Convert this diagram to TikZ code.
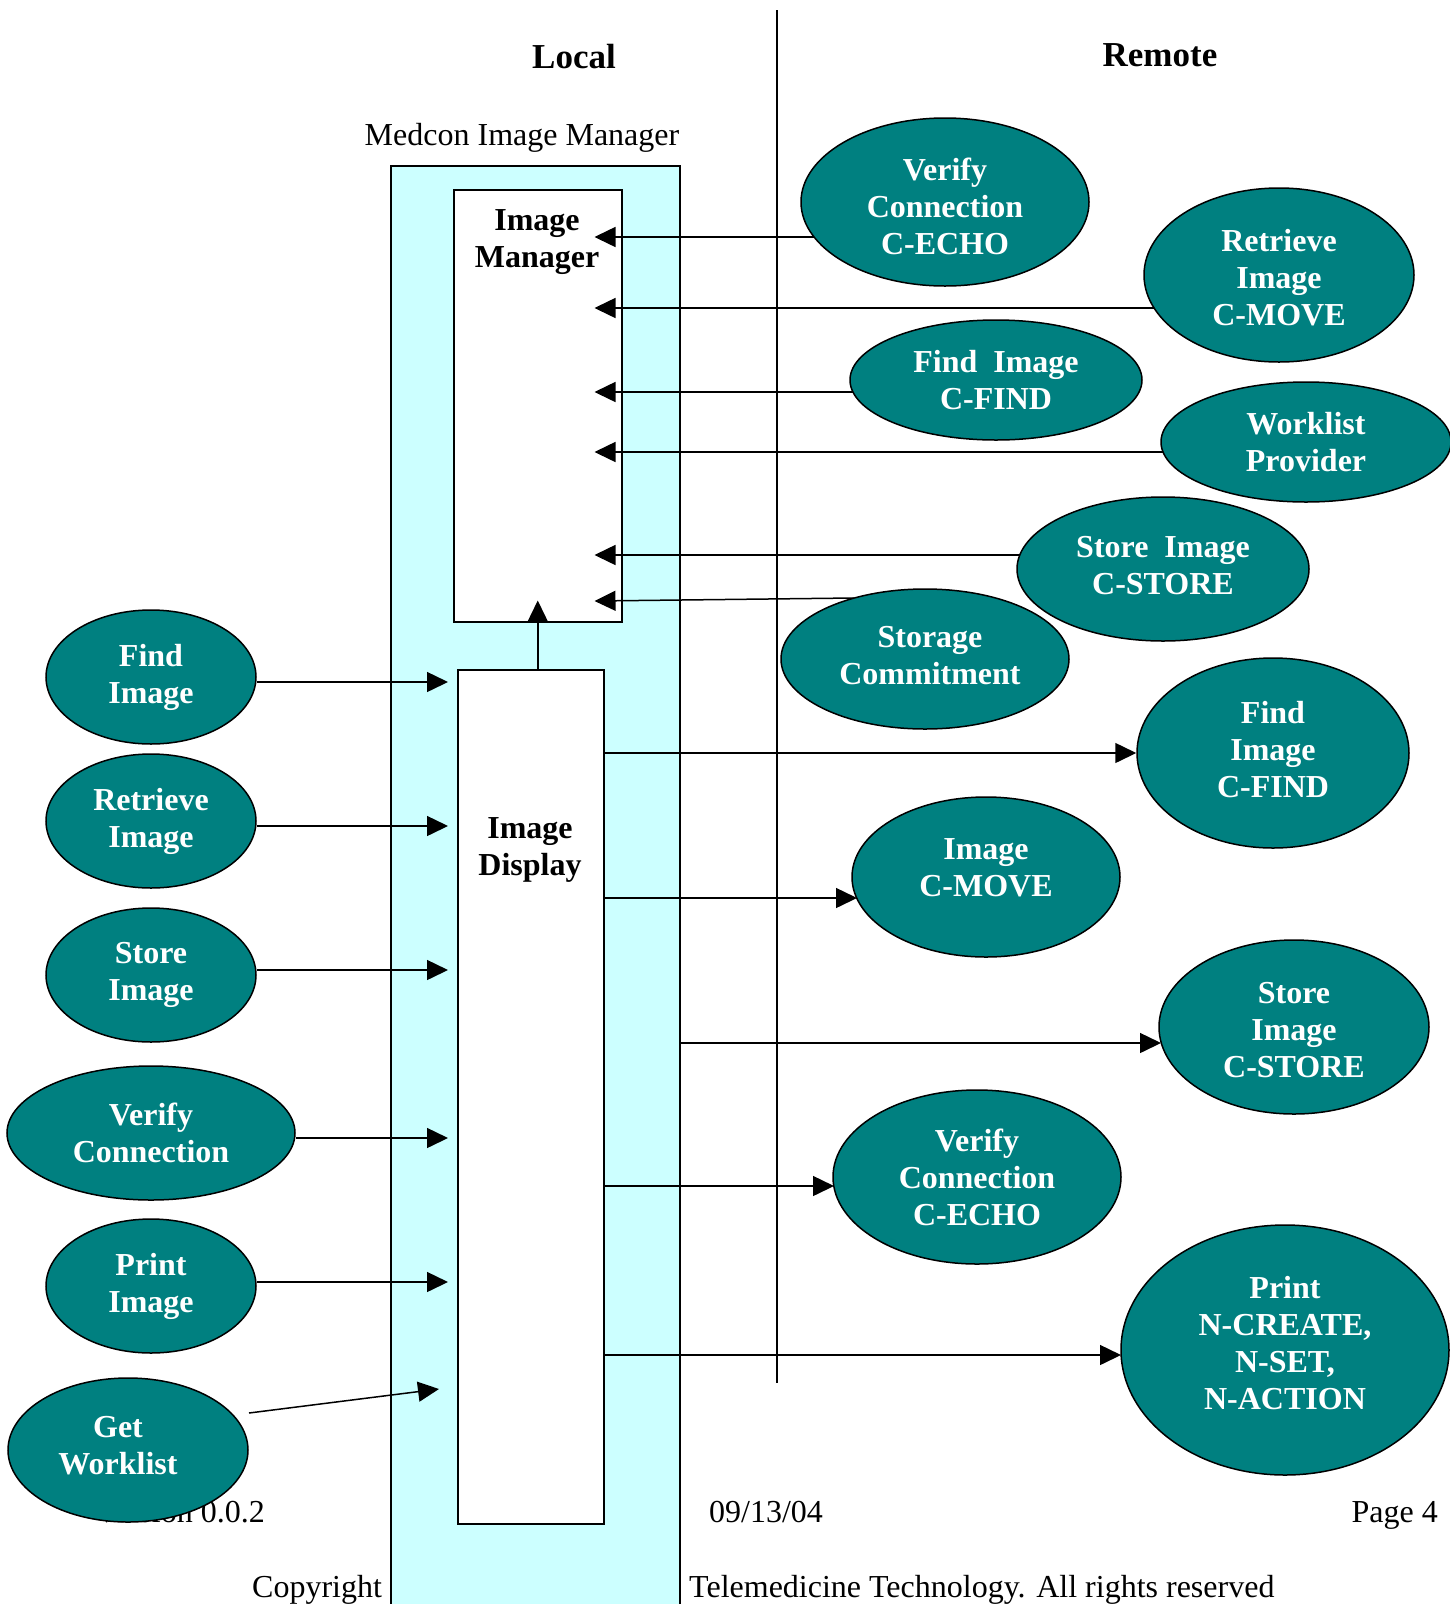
\documentclass[tikz,border=0pt]{standalone}
\usepackage{fontspec}
\setmainfont{Liberation Serif}
\usetikzlibrary{arrows.meta,shapes.geometric,calc}
\definecolor{tealA}{RGB}{0,128,128}
\definecolor{cyanA}{RGB}{204,255,255}
\pgfdeclarelayer{bg}
\pgfdeclarelayer{boxes}
\pgfdeclarelayer{arrows}
\pgfsetlayers{bg,boxes,arrows,main}
\begin{document}
\begin{tikzpicture}[x=1pt,y=-1pt,
  oval/.style={ellipse, draw=black, line width=1.5pt, fill=tealA, text=white,
    font=\fontsize{32}{37}\selectfont\bfseries, align=center, inner sep=0pt},
  ovtext/.style={text=white, font=\fontsize{32}{37}\selectfont\bfseries, align=center, inner sep=0pt},
  conn/.style={line width=1.5pt, -{Triangle[length=21pt,width=20pt]}},
  boxA/.style={draw=black, line width=1.5pt, fill=white, inner sep=0pt, anchor=north west},
  boldtxt/.style={font=\fontsize{32}{37}\selectfont\bfseries, align=center, inner sep=0pt},
  ftr/.style={font=\fontsize{32}{37}\selectfont, inner sep=0pt},
  head/.style={font=\fontsize{35}{40}\selectfont\bfseries, inner sep=0pt, anchor=base}]
\useasboundingbox (0,0) rectangle (1450,1604);

% background: footer, cyan box, divider
\begin{pgfonlayer}{bg}
  \node[ftr, anchor=base east] (ver) at (265,1522) {Version 0.0.2};
  \node[ftr, anchor=base] (date) at (766,1522) {09/13/04};
  \node[ftr, anchor=base east] (pg) at (1438,1522) {Page 4};
  \node[ftr, anchor=base west] (cp1) at (252,1597) {Copyright};
  \node[ftr, anchor=base west] (cp2) at (689,1597) {Telemedicine Technology. All rights reserved};
  \node[draw=black, line width=1.5pt, fill=cyanA, anchor=north west, inner sep=0pt,
        minimum width=289pt, minimum height=1470pt] (cy) at (390,165) {};
  \coordinate (dtop) at (777,10);
  \coordinate (dbot) at (777,1383);
  \draw[line width=1.5pt] (dtop) -- (dbot);
\end{pgfonlayer}

\begin{pgfonlayer}{boxes}
  \node[boxA, minimum width=168pt, minimum height=432pt] (mgr) at (453,189) {};
  \node[boxA, minimum width=146pt, minimum height=854pt] (disp) at (457,669) {};
\end{pgfonlayer}

% titles and labels
\node[head] (loc) at (574,68) {Local};
\node[head] (rem) at (1160,66) {Remote};
\node[ftr, anchor=base] (med) at (522,145) {Medcon Image Manager};
\node[boldtxt] (mgrt) at (537,242) {Image\\Manager};
\node[boldtxt] (dispt) at (530,850) {Image\\Display};

% remote ellipses
\node[oval, minimum width=288pt, minimum height=168pt,
      label={[ovtext, yshift=-4pt]center:Verify\\Connection\\C-ECHO}] (vc1) at (945,202) {};
\node[oval, minimum width=270pt, minimum height=174pt,
      label={[ovtext, yshift=-3pt]center:Retrieve\\Image\\C-MOVE}] (rm1) at (1279,275) {};
\node[oval, minimum width=292pt, minimum height=120pt] (fd1) at (996,380) {Find~~Image\\C-FIND};
\node[oval, minimum width=290pt, minimum height=120pt] (wl) at (1306,442) {Worklist\\Provider};
\node[oval, minimum width=292pt, minimum height=144pt,
      label={[ovtext, yshift=3pt]center:Store~~Image\\C-STORE}] (st1) at (1163,569) {};
\node[oval, minimum width=288pt, minimum height=140pt,
      label={[ovtext, xshift=5pt, yshift=3pt]center:Storage\\Commitment}] (sc) at (925,659) {};
\node[oval, minimum width=272pt, minimum height=190pt,
      label={[ovtext, yshift=3pt]center:Find\\Image\\C-FIND}] (fd2) at (1273,753) {};
\node[oval, minimum width=268pt, minimum height=160pt,
      label={[ovtext, yshift=9pt]center:Image\\C-MOVE}] (mv2) at (986,877) {};
\node[oval, minimum width=270pt, minimum height=174pt,
      label={[ovtext, yshift=-3pt]center:Store\\Image\\C-STORE}] (st2) at (1294,1027) {};
\node[oval, minimum width=288pt, minimum height=174pt] (vc2) at (977,1177) {Verify\\Connection\\C-ECHO};
\node[oval, minimum width=328pt, minimum height=250pt,
      label={[ovtext, yshift=7pt]center:Print\\N-CREATE,\\N-SET,\\N-ACTION}] (pr) at (1285,1350) {};

% local ellipses
\node[oval, minimum width=210pt, minimum height=134pt] (lfi) at (151,677) {Find\\Image};
\node[oval, minimum width=210pt, minimum height=134pt] (lre) at (151,821) {Retrieve\\Image};
\node[oval, minimum width=210pt, minimum height=134pt] (lso) at (151,975) {Store\\Image};
\node[oval, minimum width=288pt, minimum height=134pt] (lve) at (151,1133) {Verify\\Connection};
\node[oval, minimum width=210pt, minimum height=134pt] (lpi) at (151,1286) {Print\\Image};
\node[oval, minimum width=240pt, minimum height=144pt,
      label={[ovtext, xshift=-10pt, yshift=4pt]center:Get\\Worklist}] (lgw) at (128,1450) {};

\begin{pgfonlayer}{arrows}
  % into Image Manager
  \draw[conn] ($(vc1.center)+(-131,35)$) -- ($(mgr.east |- 0,237)+(-28,0)$);
  \draw[conn] ($(rm1.center)+(-125,33)$) -- ($(mgr.east |- 0,308)+(-28,0)$);
  \draw[conn] ($(fd1.center)+(-143,12)$) -- ($(mgr.east |- 0,392)+(-28,0)$);
  \draw[conn] ($(wl.center)+(-143,10)$) -- ($(mgr.east |- 0,452)+(-28,0)$);
  \draw[conn] ($(st1.center)+(-143,-14)$) -- ($(mgr.east |- 0,555)+(-28,0)$);
  \draw[conn] ($(sc.center)+(-71,-61)$) -- ($(mgr.east |- 0,601)+(-28,0)$);
  % display to manager
  \draw[conn] (mgr.south |- disp.north) -- ($(mgr.south)+(0,-22)$);
  % local into Image Display
  \draw[conn] ($(lfi.east)+(0,5)$) -- ($(disp.west |- 0,682)+(-9,0)$);
  \draw[conn] ($(lre.east)+(0,5)$) -- ($(disp.west |- 0,826)+(-9,0)$);
  \draw[conn] ($(lso.east)+(0,-5)$) -- ($(disp.west |- 0,970)+(-9,0)$);
  \draw[conn] ($(lve.east)+(0,5)$) -- ($(disp.west |- 0,1138)+(-9,0)$);
  \draw[conn] ($(lpi.east)+(0,-4)$) -- ($(disp.west |- 0,1282)+(-9,0)$);
  \draw[conn] ($(lgw.center)+(121,-37)$) -- ($(disp.west |- 0,1389)+(-18,0)$);
  % out of Image Display
  \draw[conn] (disp.east |- fd2.west) -- (fd2.west);
  \draw[conn] (disp.east |- 0,898) -- ($(mv2.center)+(-129,21)$);
  \draw[conn] (cy.east |- 0,1043) -- ($(st2.center)+(-133,16)$);
  \draw[conn] (disp.east |- 0,1186) -- ($(vc2.center)+(-143,9)$);
  \draw[conn] (disp.east |- 0,1355) -- ($(pr.center)+(-164,5)$);
\end{pgfonlayer}
\end{tikzpicture}
\end{document}
